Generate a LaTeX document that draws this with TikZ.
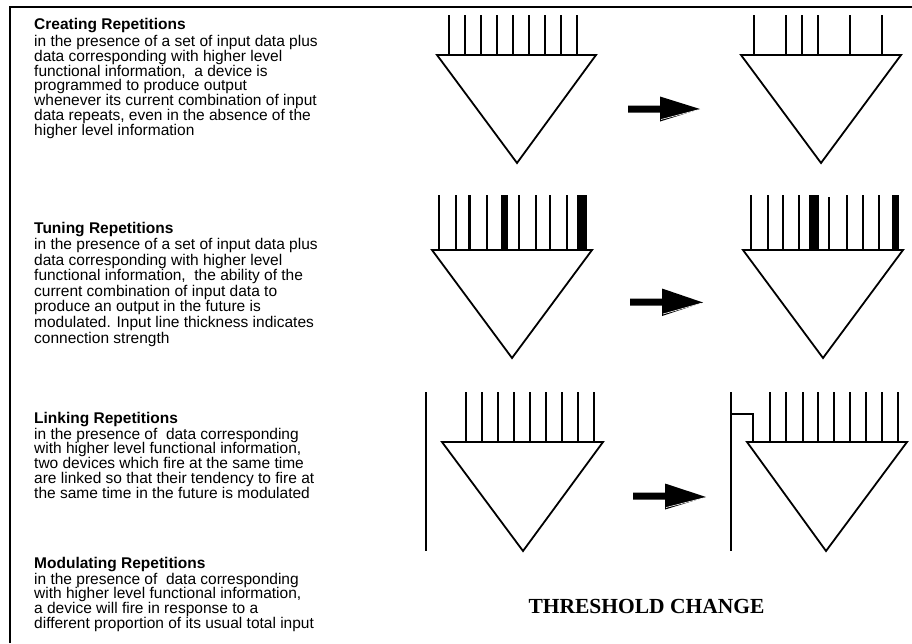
\documentclass[tikz,border=0pt]{standalone}
\usepackage{fontspec}
\setmainfont{Liberation Sans}
\newfontfamily\serifface{Liberation Serif}
\begin{document}
\begin{tikzpicture}[x=1pt,y=-1pt,
  frame/.style={line width=2pt},
  tri/.style={line width=1.8pt, line join=miter},
  inp/.style={line width=1.8pt},
  medinp/.style={line width=2.7pt},
  bar/.style={fill=black, draw=none},
  bigarrow/.style={fill=black, draw=none},
  glint/.style={draw=white, line width=0.6pt},
  desc/.style={anchor=base west, inner sep=0, font=\fontsize{15.5}{15.5}\selectfont},
  head/.style={anchor=base west, inner sep=0, font=\fontsize{15.5}{15.5}\selectfont\bfseries},
  caption/.style={anchor=base, inner sep=0, font=\serifface\bfseries\fontsize{21.5}{21.5}\selectfont}
]
\useasboundingbox (0,0) rectangle (912,643);
\draw[frame] (10,643) -- (10,7) -- (912,7);

% ---------- text blocks ----------
\node[head] (h1) at (34,29.5) {Creating Repetitions};
\foreach \t [count=\i] in {{in the presence of a set of input data plus},
  {data corresponding with higher level},
  {functional information,\ \ a device is},
  {programmed to produce output},
  {whenever its current combination of input},
  {data repeats, even in the absence of the},
  {higher level information}}
  \node[desc] (a\i) at (34,{46.5+14.8*(\i-1)}) {\t};

\node[head] (h2) at (34,233.5) {Tuning Repetitions};
\foreach \t [count=\i] in {{in the presence of a set of input data plus},
  {data corresponding with higher level},
  {functional information,\ \ the ability of the},
  {current combination of input data to},
  {produce an output in the future is},
  {modulated. Input line thickness indicates},
  {connection strength}}
  \node[desc] (b\i) at (34,{249.5+15.6*(\i-1)}) {\t};

\node[head] (h3) at (34,423.5) {Linking Repetitions};
\foreach \t [count=\i] in {{in the presence of\ \ data corresponding},
  {with higher level functional information,},
  {two devices which fire at the same time},
  {are linked so that their tendency to fire at},
  {the same time in the future is modulated}}
  \node[desc] (c\i) at (34,{439+14.8*(\i-1)}) {\t};

\node[head] (h4) at (34,568) {Modulating Repetitions};
\foreach \t [count=\i] in {{in the presence of\ \ data corresponding},
  {with higher level functional information,},
  {a device will fire in response to a},
  {different proportion of its usual total input}}
  \node[desc] (d\i) at (34,{584+14.8*(\i-1)}) {\t};

% ---------- row 1 ----------
\draw[tri] (437,55) -- (596,55) -- (517,163) -- cycle;
\foreach \k in {0,...,8} \draw[inp] ({449.3+16*\k},15) -- ({449.3+16*\k},55);
\draw[tri] (741,55) -- (901,55) -- (821,163) -- cycle;
\foreach \x in {754,786,802,818,850,882} \draw[inp] (\x,15) -- (\x,55);
\fill[bigarrow] (628,105.5) -- (660,105.5) -- (660,96.5) -- (700,109) -- (660,121.5) -- (660,112.5) -- (628,112.5) -- cycle;
\draw[glint] (661,119.5) -- (698,109.8);

% ---------- row 2 ----------
\draw[tri] (432,250) -- (592,250) -- (512,358) -- cycle;
\foreach \x in {439.3,455.7,487.3,519.3,535.7,567.3} \draw[inp] (\x,195) -- (\x,250);
\foreach \x in {469.3,550} \draw[medinp] (\x,195) -- (\x,250);
\fill[bar] (500.5,195) rectangle (507.5,250);
\fill[bar] (577.3,195) rectangle (587.3,250);
\draw[tri] (743,250) -- (903,250) -- (823,358) -- cycle;
\foreach \x in {751,767.7,783.3,799.3,847.3,862.7,879.3} \draw[inp] (\x,195) -- (\x,250);
\draw[inp] (829.3,197) -- (829.3,250);
\fill[bar] (809.3,195) rectangle (819.3,250);
\fill[bar] (892.3,195) rectangle (899.3,250);
\fill[bigarrow] (630,298.5) -- (662,298.5) -- (662,288.5) -- (703,302.5) -- (662,316) -- (662,305.5) -- (630,305.5) -- cycle;
\draw[glint] (663,314) -- (701,303.3);

% ---------- row 3 ----------
\draw[inp] (426,392) -- (426,551);
\draw[tri] (442,442) -- (603,442) -- (523,551) -- cycle;
\foreach \k in {0,...,8} \draw[inp] ({466+16*\k},392) -- ({466+16*\k},442);
\draw[inp] (731,392) -- (731,551);
\draw[inp] (731,414) -- (753,414) -- (753,442);
\draw[tri] (747,442) -- (907,442) -- (826,551) -- cycle;
\foreach \x in {770,786,802.7,818.3,834,850,866,882,898.3} \draw[inp] (\x,392) -- (\x,442);
\fill[bigarrow] (633,492.5) -- (665,492.5) -- (665,483.5) -- (706,497) -- (665,509.5) -- (665,499.5) -- (633,499.5) -- cycle;
\draw[glint] (666,507.5) -- (704,497.8);

\node[caption] (cap) at (646.5,613.5) {THRESHOLD CHANGE};
\end{tikzpicture}
\end{document}
